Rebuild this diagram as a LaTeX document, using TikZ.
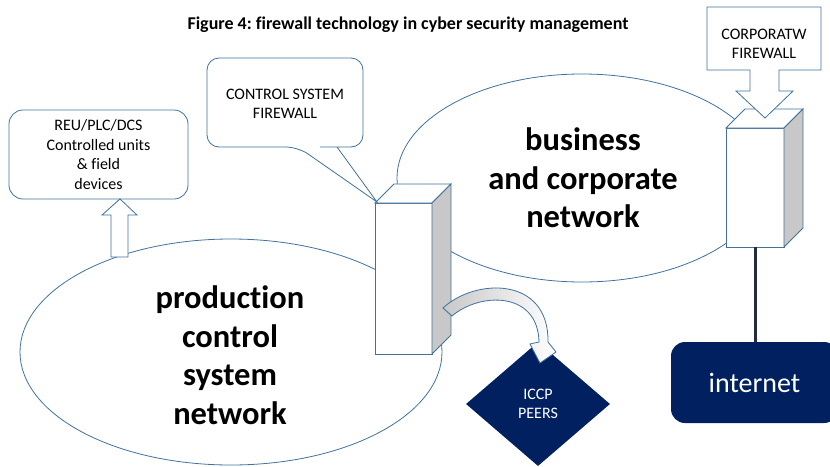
\documentclass[tikz,border=0pt]{standalone}
\usepackage{fontspec}
\setmainfont{Carlito}[Ligatures=NoCommon]
\usetikzlibrary{shapes.geometric}
\definecolor{edgeblue}{HTML}{41719C}
\definecolor{navy}{HTML}{002060}
\definecolor{sidegrey}{HTML}{C8C8C8}
\definecolor{wire}{HTML}{262C3A}
\frenchspacing
\tikzset{
	outline/.style={draw=edgeblue, line width=0.8pt},
	smalltext/.style={font=\fontsize{16}{19.5}\selectfont, align=center},
	bigtext/.style={font=\fontsize{32.5}{38.5}\selectfont\bfseries, align=center},
}
% firewall box: front top-left corner, width, height, depth
\def\firewall(#1,#2)(#3:#4:#5){
	\draw[outline, fill=white] (#1,#2) rectangle ++(#3,#4);
	\draw[outline, fill=white] (#1,#2) -- ++(#5,-#5) -- ++(#3,0) -- ++(-#5,#5) -- cycle;
	\draw[outline, fill=sidegrey] (#1+#3,#2) -- ++(#5,-#5) -- ++(0,#4) -- ++(-#5,#5) -- cycle;}

\begin{document}
\begin{tikzpicture}[x=1pt, y=-1pt]
		%%%%% START %%%%%
		\useasboundingbox (0,0) rectangle (830,466);
		
		\node[font=\fontsize{18}{21}\selectfont\bfseries, anchor=base] (title) at (408,29) {Figure 4: firewall technology in cyber security management};
		
		% the two networks
		\draw[outline] (582,178) ellipse [x radius=185, y radius=104];
		\draw[outline] (231,352) ellipse [x radius=211, y radius=113];
		\node[bigtext] (business) at (583,178) {business\\and corporate\\network};
		\node[bigtext] (production) at (230,355) {production\\control\\system\\network};
		
		% field devices
		\node[outline, rounded corners=14pt, minimum width=179pt, minimum height=89pt, smalltext] (units) at (98.5,154.5) {REU/PLC/DCS\\Controlled units\\\& field\\devices};
		\draw[outline, fill=white] (120,199) -- (137,215) -- (128,215) -- (128,257) -- (111,257) -- (111,215) -- (102,215) -- cycle;
		
		% control system firewall
		\node[diamond, fill=navy, minimum width=144pt, minimum height=124pt, inner sep=0pt, text=white, smalltext] (iccp) at (538,404) {ICCP\\PEERS};
		\firewall(375,203)(57:151:19)
		\shadedraw[outline, left color=sidegrey, right color=white] (443,308) .. controls (475,278) and (549,276) .. (548,342) -- (556,352) -- (540,363) -- (530,344) -- (539,342) .. controls (538,291) and (480,292) .. (452,316) -- cycle;
		\draw[outline, fill=white, rounded corners=12pt] (320,147) -- (363,147) -- (363,58) -- (207,58) -- (207,147) -- (298,147) [sharp corners] -- (377,202) -- (337,147) -- cycle;
		\node[smalltext] (cstext) at (285,104) {CONTROL SYSTEM\\FIREWALL};
		
		% corporate firewall and internet
		\firewall(726,128)(58:119:19)
		\draw[outline, fill=white] (707,7) -- (821,7) -- (821,70) -- (779,70) -- (779,91) -- (793,91) -- (765,118) -- (736,91) -- (750,91) -- (750,70) -- (707,70) -- cycle;
		\node[smalltext] (cftext) at (764,44) {CORPORATW\\FIREWALL};
		\coordinate (corpbase) at (755,247);
		\node[fill=navy, rounded corners=14pt, minimum width=167pt, minimum height=81pt, text=white, font=\fontsize{28}{32}\selectfont] (internet) at (754.5,382.5) {internet};
		\draw[line width=3pt, wire] (corpbase) -- (corpbase |- internet.north);
		
		%%%%% END %%%%%
\end{tikzpicture}
\end{document}
